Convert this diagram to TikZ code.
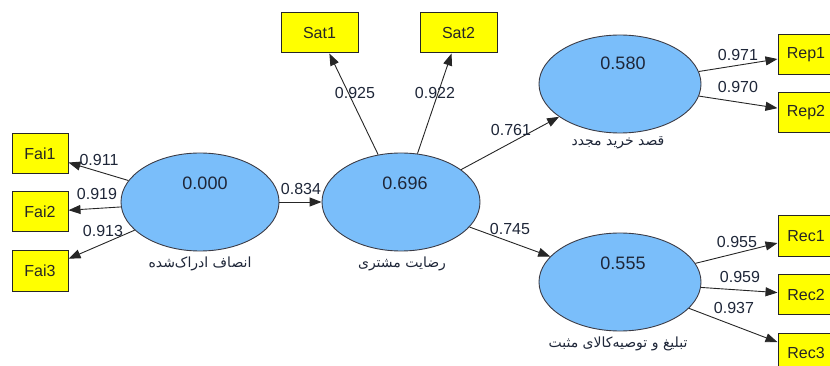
\documentclass[tikz,border=0pt]{standalone}
\usepackage{fontspec}
\setmainfont{Liberation Sans}
\newfontfamily\fafont[Script=Arabic]{DejaVu Sans}
\TeXXeTstate=1
\usetikzlibrary{shapes.geometric,arrows.meta}
\definecolor{lvfill}{RGB}{122,190,250}
\definecolor{lvdraw}{RGB}{60,60,70}
\definecolor{mvfill}{RGB}{255,255,0}
\definecolor{txt}{RGB}{30,38,56}
\tikzset{
  latent/.style={ellipse, draw=lvdraw, fill=lvfill, line width=0.9pt,
    minimum width=158pt, minimum height=98pt, inner sep=0pt},
  wideLV/.style={latent, minimum width=162pt},
  indicator/.style={rectangle, draw=black!85, fill=mvfill, line width=1pt,
    minimum width=56pt, minimum height=40pt, inner sep=0pt,
    font=\fontsize{16pt}{18pt}\selectfont, text=black!85},
  wideInd/.style={indicator, minimum width=77pt},
  rsq/.style={font=\fontsize{18pt}{20pt}\selectfont, text=txt, inner sep=0pt},
  coef/.style={font=\fontsize{16pt}{18pt}\selectfont, text=txt, inner sep=0pt},
  lvname/.style={font=\fafont\fontsize{14pt}{16pt}\selectfont, text=txt, inner sep=0pt},
  path/.style={draw=black!85, line width=0.9pt, -{Triangle[length=12pt,width=9pt]}}
}
\begin{document}
\begin{tikzpicture}[x=1pt,y=-1pt]
\useasboundingbox (0,0) rectangle (830,366);
\clip (0,0) rectangle (830,366);

% latent variables
\node[latent] (fai) at (200,202) {};
\node[latent] (sat) at (401,202) {};
\node[wideLV] (rep) at (620,84) {};
\node[wideLV] (rec) at (620,282) {};

% indicators
\node[indicator] (fai1) at (40,154) {Fai1};
\node[indicator] (fai2) at (40,212) {Fai2};
\node[indicator] (fai3) at (40,271) {Fai3};
\node[wideInd] (sat1) at (319.5,33) {Sat1};
\node[wideInd] (sat2) at (458.5,33) {Sat2};
\node[indicator] (rep1) at (806,54.5) {Rep1};
\node[indicator] (rep2) at (806,112.5) {Rep2};
\node[indicator] (rec1) at (806,236) {Rec1};
\node[indicator] (rec2) at (806,294.5) {Rec2};
\node[indicator] (rec3) at (806,353) {Rec3};

% outer loadings
\draw[path] (fai) -- (fai1);
\draw[path] (fai) -- (fai2);
\draw[path] (fai) -- (fai3);
\draw[path] (sat) -- (sat1);
\draw[path] (sat) -- (sat2);
\draw[path] (rep) -- (rep1);
\draw[path] (rep) -- (rep2);
\draw[path] (rec) -- (rec1);
\draw[path] (rec) -- (rec2);
\draw[path] (rec) -- (rec3);

% structural paths
\draw[path] (fai) -- (sat);
\draw[path] (sat) -- (rep);
\draw[path] (sat) -- (rec);

% R squared values
\node[rsq] (r1) at (205,183) {0.000};
\node[rsq] (r2) at (405,183) {0.696};
\node[rsq] (r3) at (623,63) {0.580};
\node[rsq] (r4) at (623,263) {0.555};

% coefficients
\node[coef] (c1) at (99,160) {0.911};
\node[coef] (c2) at (97,194) {0.919};
\node[coef] (c3) at (103,231) {0.913};
\node[coef] (c4) at (301,189) {0.834};
\node[coef] (c5) at (355,93) {0.925};
\node[coef] (c6) at (435,93) {0.922};
\node[coef] (c7) at (511,130) {0.761};
\node[coef] (c8) at (510,229) {0.745};
\node[coef] (c9) at (738,55) {0.971};
\node[coef] (c10) at (738,87) {0.970};
\node[coef] (c11) at (737,242) {0.955};
\node[coef] (c12) at (740,277) {0.959};
\node[coef] (c13) at (734,308) {0.937};

% construct names
\node[lvname] (n1) at (200,264) {\beginR انصاف ادراک‌شده\endR};
\node[lvname] (n2) at (402,264) {\beginR رضایت مشتری\endR};
\node[lvname] (n3) at (618,143) {\beginR قصد خرید مجدد\endR};
\node[lvname] (n4) at (618,344) {\beginR تبلیغ و توصیه‌کالای مثبت\endR};
\end{tikzpicture}
\end{document}
